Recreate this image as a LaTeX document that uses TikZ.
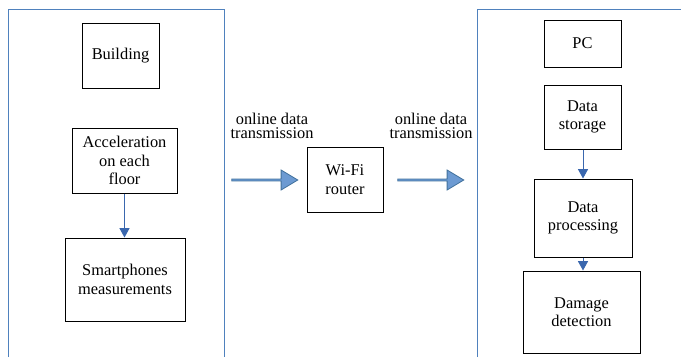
\documentclass[tikz,border=0pt]{standalone}
\usepackage{fontspec}
\setmainfont{Liberation Serif}
\usetikzlibrary{arrows.meta,shapes.arrows}
\definecolor{panelblue}{RGB}{79,129,189}
\definecolor{linkblue}{RGB}{58,103,174}
\definecolor{fatfill}{RGB}{108,154,210}
\definecolor{fatedge}{RGB}{65,113,156}
\begin{document}
\begin{tikzpicture}[x=0.75pt,y=-0.75pt,
  box/.style n args={2}{draw=black,line width=0.75pt,minimum width=#1*0.75pt,
    minimum height=#2*0.75pt,inner sep=1pt,align=center,
    font=\fontsize{12.3}{13.8}\selectfont},
  label/.style={align=center,inner sep=0pt,font=\fontsize{12.3}{11}\selectfont},
  panel/.style={draw=panelblue,line width=0.75pt},
  link/.style={draw=linkblue,line width=0.75pt,-{Triangle[width=7.5pt,length=7pt]}},
  fat/.style={single arrow,draw=fatedge,fill=fatfill,line width=0.6pt,
    minimum height=66*0.75pt,minimum width=20*0.75pt,
    single arrow head extend=3pt,single arrow tip angle=62,inner sep=0pt}]
\useasboundingbox (0,0) rectangle (681,357);

% frames of the two sides
\draw[panel] (8,357) -- (8,9) -- (224,9) -- (224,357);
\draw[panel] (477,357) -- (477,9) -- (681,9);

% measurement side
\node[box={77}{65}] (bld) at (120.5,55.5) {Building};
\node[box={105}{65}] (acc) at (124.5,160.5) {Acceleration\\on each\\floor};
\node[box={120}{83}] (sm) at (125,279.5) {Smartphones\\measurements};
\draw[link] (acc.south) -- (acc.south |- sm.north);

% transmission
\node[label] (t1) at (272,126) {online data\\transmission};
\node[fat] (a1) at (264,180) {};
\node[box={76}{65}] (wifi) at (345,179.5) {Wi-Fi\\router};
\node[label] (t2) at (431,126) {online data\\transmission};
\node[fat] (a2) at (430,180) {};

% computer side
\node[box={77}{47}] (pc) at (582.5,43.5) {PC};
\node[box={77}{64}] (st) at (582.5,117) {Data\\storage};
\node[box={98}{78}] (pr) at (583,218) {Data\\processing};
\node[box={117}{82}] (dm) at (581.5,312) {Damage\\detection};
\draw[link] (st.south -| pr) -- (pr.north);
\draw[link] (pr.south) -- (pr.south |- dm.north);
\end{tikzpicture}
\end{document}
